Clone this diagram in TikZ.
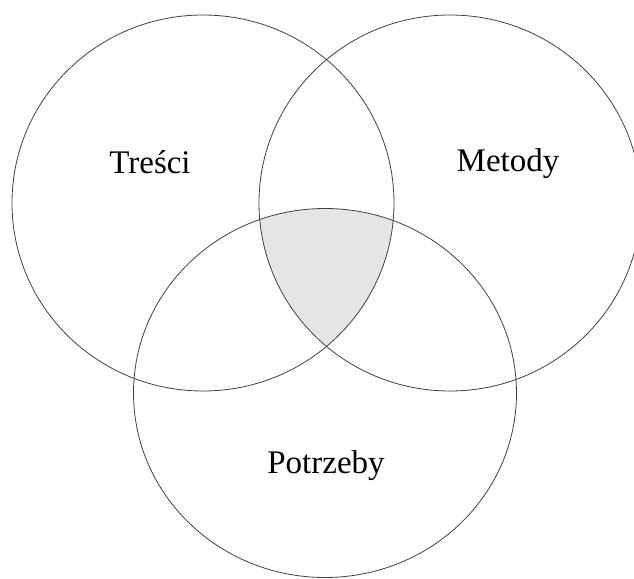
\documentclass[tikz,border=0pt]{standalone}
\usepackage{fontspec}
\setmainfont{Liberation Serif}
\begin{document}
\begin{tikzpicture}[x=1pt,y=-1pt,
  ring/.style={draw=black!75,line width=0.8pt},
  lbl/.style={anchor=base,inner sep=0pt,font=\fontsize{33}{40}\selectfont}]
\useasboundingbox (0,0) rectangle (634,578);
\clip (0,0) rectangle (634,578);
\coordinate (cT) at (203,203);
\coordinate (cM) at (450,203);
\coordinate (cP) at (325,393);
\begin{scope}
  \clip (cT) ellipse[x radius=191,y radius=188];
  \clip (cM) ellipse[x radius=191,y radius=188];
  \fill[black!10] (cP) ellipse[x radius=191.5,y radius=184.5];
\end{scope}
\draw[ring] (cT) ellipse[x radius=191,y radius=188];
\draw[ring] (cM) ellipse[x radius=191,y radius=188];
\draw[ring] (cP) ellipse[x radius=191.5,y radius=184.5];
\node[lbl] (tresci) at (150,173) {Treści};
\node[lbl] (metody) at (508,171) {Metody};
\node[lbl] (potrzeby) at (326,473) {Potrzeby};
\end{tikzpicture}
\end{document}
